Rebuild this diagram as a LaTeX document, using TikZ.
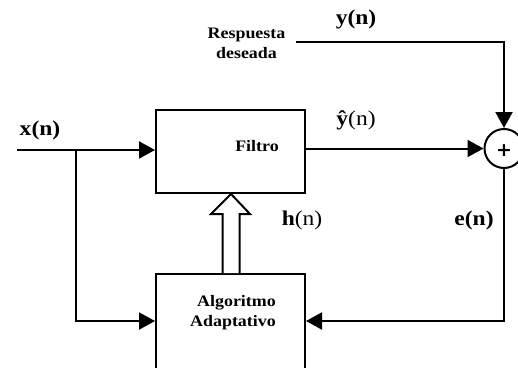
\documentclass[tikz,border=0pt]{standalone}
\usepackage{fontspec}
\setmainfont{Liberation Serif}[FakeStretch=1.12]
\newfontfamily\plusfont{DejaVu Sans}
\usetikzlibrary{arrows.meta,calc}
\begin{document}
\begin{tikzpicture}[x=1pt,y=-1pt,
  wire/.style={line width=2pt},
  arr/.style={wire,-{Triangle[length=16pt,width=17pt]}},
  block/.style={draw,line width=2pt,inner sep=0pt},
  hollow/.style={wire,fill=white,line join=miter},
  tag/.style={font=\bfseries\fontsize{16}{20}\selectfont,inner sep=0pt,align=center},
  var/.style={font=\fontsize{21}{24}\selectfont,inner sep=0pt}]
\useasboundingbox (0,0) rectangle (518,367);
\clip (0,0) rectangle (518,367);

% blocks
\node[block,minimum width=149pt,minimum height=83pt] (filtro) at (230.5,151.5) {};
\node[block,minimum width=149pt,minimum height=150pt] (algo) at (230.5,349) {};
\node[draw,circle,line width=2pt,minimum size=39pt,inner sep=0pt] (sum) at (504,148.5) {};
\node[font=\plusfont\bfseries\fontsize{19}{19}\selectfont,inner sep=0pt] (plus) at (504,151) {+};

% block captions
\node[tag] (ftxt) at (257,146) {Filtro};
\node[tag,align=right,anchor=east] (atxt) at (276,313) {Algoritmo\\Adaptativo};
\node[tag] (resp) at (246.5,43) {Respuesta\\deseada};

% signal names
\node[var] (yn) at (356,19) {\textbf{y(n)}};
\node[var] (xn) at (40,130) {\textbf{x(n)}};
\node[var] (yhat) at (356,120) {\textbf{ŷ}(n)};
\node[var] (hn) at (302,220) {\textbf{h}(n)};
\node[var] (en) at (474,220) {\textbf{e(n)}};

% helper points
\coordinate (xin) at (17,150);
\coordinate (br) at (76,150);
\coordinate (des) at (296,42);
\coordinate (lo) at (0,321);

% connectors
\draw[arr] (xin) -- (filtro.west |- xin);
\draw[arr] (br) |- (algo.west |- lo);
\draw[arr] (filtro.east |- sum.west) -- (sum.west);
\draw[arr] (des) -| (sum.north);
\draw[arr] (sum.south) |- (algo.east |- lo);

% coefficient update arrow
\draw[hollow] ($(algo.north)+(-8,0)$) -- ($(filtro.south)+(-8,20)$)
  -- ($(filtro.south)+(-19.5,20)$) -- ($(filtro.south)+(0.5,0)$)
  -- ($(filtro.south)+(19.5,20)$) -- ($(filtro.south)+(9,20)$)
  -- ($(algo.north)+(9,0)$);
\end{tikzpicture}
\end{document}
